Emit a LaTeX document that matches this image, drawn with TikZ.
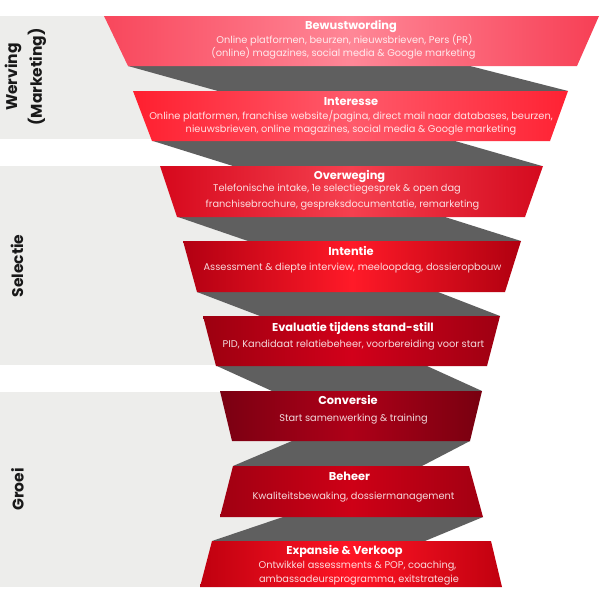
\documentclass[tikz,border=0pt]{standalone}
\usepackage{fontspec}
\setmainfont{Poppins}
\definecolor{bandgray}{HTML}{EDEDEB}
\definecolor{shadowgray}{HTML}{5F5F5F}
\definecolor{aL}{HTML}{F8475C}\definecolor{aM}{HTML}{FF8797}\definecolor{aR}{HTML}{F73F55}
\definecolor{bL}{HTML}{FF1F2F}\definecolor{bM}{HTML}{FF5A6B}\definecolor{bR}{HTML}{FF2233}
\definecolor{cL}{HTML}{D6081C}\definecolor{cM}{HTML}{F5404F}\definecolor{cR}{HTML}{D40A1E}
\definecolor{dL}{HTML}{B20012}\definecolor{dM}{HTML}{FF1A28}\definecolor{dR}{HTML}{B00010}
\definecolor{eL}{HTML}{9C0010}\definecolor{eM}{HTML}{D2001A}\definecolor{eR}{HTML}{9E0012}
\definecolor{fL}{HTML}{7A0012}\definecolor{fM}{HTML}{AE0018}\definecolor{fR}{HTML}{780010}
\definecolor{gL}{HTML}{A00012}\definecolor{gM}{HTML}{CE0016}\definecolor{gR}{HTML}{A20012}
\definecolor{hL}{HTML}{BF000F}\definecolor{hM}{HTML}{FF1525}\definecolor{hR}{HTML}{C1000F}
\begin{document}
\begin{tikzpicture}[x=1pt,y=-1pt,
  band/.style={fill=bandgray},
  fold/.style={fill=shadowgray},
  title/.style={font=\bfseries\fontsize{11.4}{12}\selectfont, text=white, anchor=base, inner sep=0pt},
  body/.style={font=\fontsize{9.8}{11}\selectfont, text=white, text opacity=0.85, anchor=base, inner sep=0pt},
  side/.style={font=\bfseries\fontsize{15.5}{17}\selectfont, text=black!90, rotate=90, anchor=center, inner sep=0pt}]
\useasboundingbox (0,0) rectangle (600,600);
\fill[white] (0,0) rectangle (600,600);
% phase bands
\fill[band] (0,16) rectangle (320,139);
\fill[band] (0,166) rectangle (320,365);
\fill[band] (0,392) rectangle (320,587);
% folds
\fill[fold] (128,66) -- (470,66) -- (568,91) -- (218,91) -- cycle;
\fill[fold] (153,141) -- (455,141) -- (542,166) -- (233,166) -- cycle;
\fill[fold] (178,217) -- (445,217) -- (521,241) -- (248,241) -- cycle;
\fill[fold] (197,292) -- (438,292) -- (500,316) -- (260,316) -- cycle;
\fill[fold] (217,366) -- (427,366) -- (482,391) -- (272,391) -- cycle;
\fill[fold] (292,441) -- (470,441) -- (422,466) -- (233,466) -- cycle;
\fill[fold] (283,517) -- (483,517) -- (425,541) -- (212,541) -- cycle;
% strips
\shade[left color=aL, right color=aR, middle color=aM] (104,16) -- (599,16) -- (577,66) -- (128,66) -- cycle;
\shade[left color=bL, right color=bR, middle color=bM] (133,91) -- (568,91) -- (550,141) -- (152,141) -- cycle;
\shade[left color=cL, right color=cR, middle color=cM] (160,166) -- (543,166) -- (525,217) -- (177,217) -- cycle;
\shade[left color=dL, right color=dR, middle color=dM] (183,241) -- (521,241) -- (505,292) -- (197,292) -- cycle;
\shade[left color=eL, right color=eR, middle color=eM] (203,316) -- (500,316) -- (487,366) -- (216,366) -- cycle;
\shade[left color=fL, right color=fR, middle color=fM] (220,391) -- (482,391) -- (470,441) -- (232,441) -- cycle;
\shade[left color=gL, right color=gR, middle color=gM] (233,466) -- (469,466) -- (483,517) -- (220,517) -- cycle;
\shade[left color=hL, right color=hR, middle color=hM] (212,541) -- (491,541) -- (502,587) -- (200,587) -- cycle;
% texts
\node[title] (t1) at (351,29.5) {Bewustwording};
\node[body] (a1) at (344.5,43.5) {Online platformen, beurzen, nieuwsbrieven, Pers (PR)};
\node[body] (a2) at (343.5,56.5) {(online) magazines, social media \& Google marketing};
\node[title] (t2) at (351,105.5) {Interesse};
\node[body] (b1) at (351,119.5) {Online platformen, franchise website/pagina, direct mail naar databases, beurzen,};
\node[body] (b2) at (351,132.5) {nieuwsbrieven, online magazines, social media \& Google marketing};
\node[title] (t3) at (349.5,179.5) {Overweging};
\node[body] (c1) at (337,191.5) {Telefonische intake, 1e selectiegesprek \& open dag};
\node[body] (c2) at (342.5,207.5) {franchisebrochure, gespreksdocumentatie, remarketing};
\node[title] (t4) at (351,255.5) {Intentie};
\node[body] (d1) at (352.5,270.5) {Assessment \& diepte interview, meeloopdag, dossieropbouw};
\node[title] (t5) at (353,331.5) {Evaluatie tijdens stand-still};
\node[body] (e1) at (353.5,347.5) {PID, Kandidaat relatiebeheer, voorbereiding voor start};
\node[title] (t6) at (348,404.5) {Conversie};
\node[body] (f1) at (353.5,421.5) {Start samenwerking \& training};
\node[title] (t7) at (349.5,480.5) {Beheer};
\node[body] (g1) at (353.5,499.5) {Kwaliteitsbewaking, dossiermanagement};
\node[title] (t8) at (344.5,554.5) {Expansie \& Verkoop};
\node[body] (h1) at (357.5,568.5) {Ontwikkel assessments \& POP, coaching,};
\node[body] (h2) at (359,582.5) {ambassadeursprogramma, exitstrategie};
% phase labels
\node[side] (s1a) at (13,77) {Werving};
\node[side] (s1b) at (37,77) {(Marketing)};
\node[side] (s2) at (17,266) {Selectie};
\node[side] (s3) at (17.5,489.5) {Groei};
\end{tikzpicture}
\end{document}
